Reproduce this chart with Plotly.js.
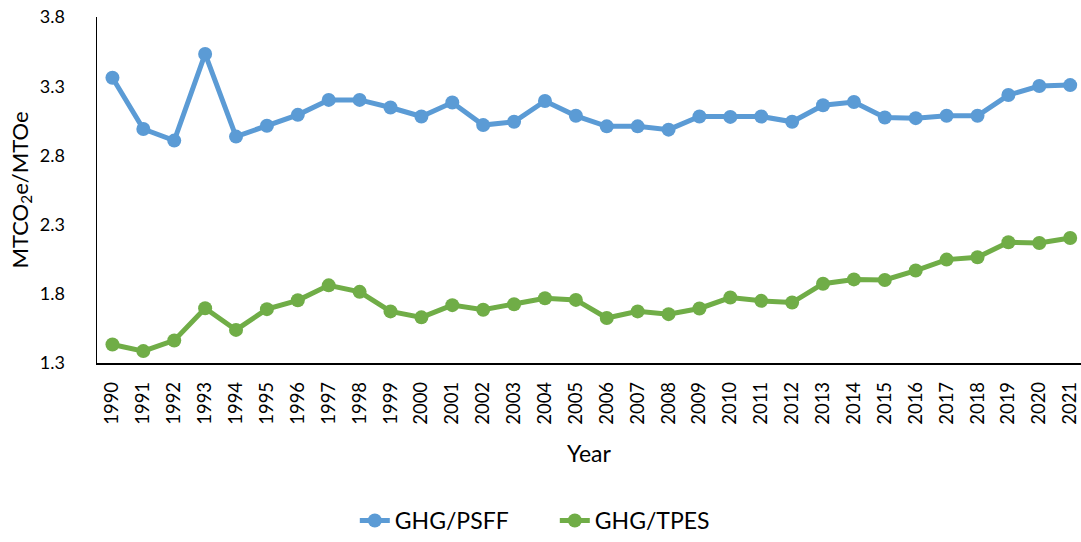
<!DOCTYPE html>
<html>
<head>
<meta charset="utf-8">
<script src="https://cdn.plot.ly/plotly-3.0.1.min.js"></script>
<style>html,body{margin:0;padding:0;background:#fff;}#chart{width:1081px;height:542px;}</style>
</head>
<body>
<div id="chart"></div>
<script>
const years = [1990,1991,1992,1993,1994,1995,1996,1997,1998,1999,2000,2001,2002,2003,2004,2005,2006,2007,2008,2009,2010,2011,2012,2013,2014,2015,2016,2017,2018,2019,2020,2021];
const ghgPSFF = [3.361,2.991,2.907,3.533,2.936,3.014,3.093,3.201,3.201,3.146,3.081,3.182,3.019,3.043,3.193,3.086,3.010,3.010,2.986,3.081,3.078,3.081,3.043,3.162,3.186,3.074,3.069,3.086,3.086,3.236,3.301,3.308];
const ghgTPES = [1.434,1.386,1.463,1.696,1.539,1.689,1.753,1.861,1.814,1.673,1.630,1.718,1.685,1.725,1.768,1.756,1.625,1.673,1.653,1.694,1.773,1.749,1.737,1.873,1.904,1.900,1.968,2.047,2.064,2.172,2.167,2.203];
const yTicks = [1.3,1.8,2.3,2.8,3.3,3.8];
const seriesNames = ["GHG/PSFF","GHG/TPES"];

const font = "Lato, 'Open Sans', sans-serif";
const traces = [
  {x: years, y: ghgPSFF, name: seriesNames[0], type: 'scatter', mode: 'lines+markers',
   line: {color: '#5B9BD5', width: 5}, marker: {color: '#5B9BD5', size: 14}},
  {x: years, y: ghgTPES, name: seriesNames[1], type: 'scatter', mode: 'lines+markers',
   line: {color: '#70AD47', width: 5}, marker: {color: '#70AD47', size: 14}}
];
const layout = {
  width: 1081, height: 542,
  margin: {l: 97, r: 0, t: 17, b: 176},
  paper_bgcolor: '#fff', plot_bgcolor: '#fff',
  font: {family: font, size: 18, color: '#000'},
  showlegend: true,
  legend: {orientation: 'h', x: 0.262, xanchor: 'left', y: -0.456, yanchor: 'middle',
           entrywidth: 155, entrywidthmode: 'pixels',
           font: {family: font, size: 23, color: '#000'}, tracegroupgap: 0},
  xaxis: {
    range: [1989.5, 2021.35], tickmode: 'array', tickvals: years, ticktext: years.map(String),
    tickangle: -90, showgrid: false, zeroline: false, showline: true, linecolor: '#000', linewidth: 1.5,
    ticks: '', ticklabelstandoff: 10, tickfont: {family: font, size: 18.5, color: '#000'},
    title: {text: 'Year', font: {family: font, size: 23, color: '#000'}, standoff: 22},
    automargin: false, fixedrange: true
  },
  yaxis: {
    range: [1.3, 3.8], tickmode: 'array', tickvals: yTicks, ticktext: yTicks.map(v => v.toFixed(1)),
    showgrid: false, zeroline: false, showline: true, linecolor: '#000', linewidth: 1.5,
    ticks: '', ticklabelstandoff: 27, tickfont: {family: font, size: 18, color: '#000'},
    title: {text: 'MTCO<sub>2</sub>e/MTOe', font: {family: font, size: 22, color: '#000'}, standoff: 5},
    automargin: false, fixedrange: true
  }
};
Plotly.newPlot('chart', traces, layout, {staticPlot: true, displayModeBar: false});
</script>
</body>
</html>
